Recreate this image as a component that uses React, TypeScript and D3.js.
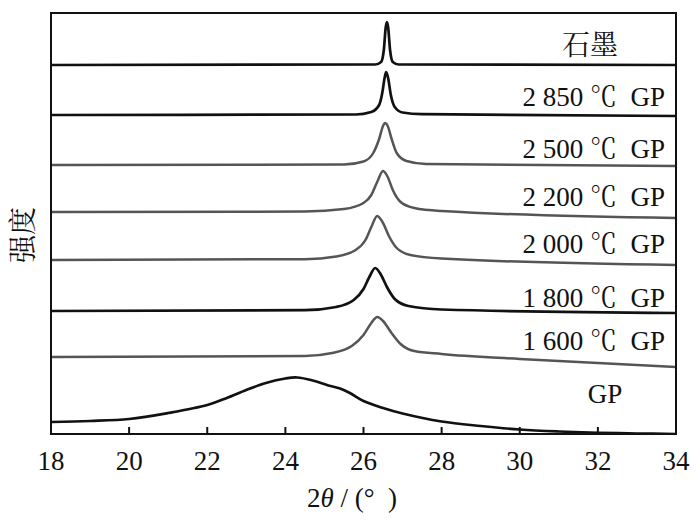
import * as d3 from "d3";

// 2θ tick values along the bottom axis
const xTicks = [18, 20, 22, 24, 26, 28, 30, 32, 34];

// sample labels, top to bottom: temperature part / suffix
const temps = ["", "2 850", "2 500", "2 200", "2 000", "1 800", "1 600", ""];
const topLabel = "石墨";
const bottomLabel = "GP";

// vertical offset of each trace (intensity, a.u.)
const offsets = [36.9, 31.9, 26.9, 22.2, 17.4, 12.3, 7.7, 0];

// trace colour: dark / grey as in the figure
const tones = ["dark", "dark", "grey", "grey", "grey", "dark", "grey", "dark"];

// [2θ, intensity above offset]
const graphite: [number, number][] = [
  [18, 0], [26.3, 0.05], [26.45, 0.3], [26.52, 1.5], [26.57, 3.8], [26.6, 4.3],
  [26.63, 3.8], [26.68, 1.5], [26.75, 0.3], [26.9, 0.05], [34, 0],
];
const gp2850: [number, number][] = [
  [18, 0], [25.8, 0.05], [26.2, 0.3], [26.4, 1.0], [26.48, 2.2], [26.54, 3.7],
  [26.58, 4.3], [26.63, 3.7], [26.7, 2.0], [26.8, 0.8], [27.0, 0.25], [27.5, 0.08], [34, -0.1],
];
const gp2500: [number, number][] = [
  [18, 0], [25.5, 0.05], [26.0, 0.35], [26.25, 1.2], [26.4, 2.6], [26.5, 3.9],
  [26.55, 4.2], [26.62, 3.9], [26.72, 2.6], [26.85, 1.2], [27.1, 0.4], [27.6, 0.1], [34, -0.1],
];
const gp2200: [number, number][] = [
  [18, 0], [24.5, 0.05], [25.5, 0.3], [26.0, 0.9], [26.2, 1.7], [26.35, 3.0],
  [26.5, 4.1], [26.62, 3.5], [26.75, 2.2], [26.95, 1.0], [27.3, 0.4], [28, 0.1], [34, -0.6],
];
const gp2000: [number, number][] = [
  [18, 0], [24.5, 0.08], [25.3, 0.35], [25.8, 1.0], [26.05, 2.0], [26.2, 3.3],
  [26.35, 4.4], [26.5, 3.7], [26.65, 2.4], [26.85, 1.2], [27.2, 0.5], [28, 0.15], [34, -0.5],
];
const gp1800: [number, number][] = [
  [18, 0], [24.5, 0.08], [25.3, 0.4], [25.75, 1.1], [26.0, 2.2], [26.15, 3.4],
  [26.3, 4.3], [26.45, 3.6], [26.6, 2.4], [26.8, 1.2], [27.15, 0.5], [28, 0.15], [34, -0.2],
];
const gp1600: [number, number][] = [
  [18, 0], [24.5, 0.1], [25.2, 0.4], [25.7, 1.1], [26.0, 2.2], [26.2, 3.4],
  [26.35, 4.0], [26.5, 3.6], [26.7, 2.5], [26.95, 1.3], [27.3, 0.6], [28, 0.3], [30, -0.2], [34, -1.0],
];
const gpRaw: [number, number][] = [
  [18, 1.2], [19, 1.3], [20, 1.5], [21, 2.1], [22, 2.9], [22.5, 3.6], [23, 4.4],
  [23.5, 5.1], [24, 5.55], [24.3, 5.65], [24.7, 5.35], [25.1, 4.85], [25.4, 4.55],
  [25.65, 4.1], [26, 3.3], [26.5, 2.6], [27, 2.05], [28, 1.25], [29, 0.8], [30, 0.45],
  [31, 0.25], [32, 0.12], [33, 0.05], [34, 0],
];

const series = [graphite, gp2850, gp2500, gp2200, gp2000, gp1800, gp1600, gpRaw];

// label baselines in intensity units (same scale as the traces)
const labelY = [37.9, 32.8, 27.6, 22.8, 18.1, 12.7, 8.4, 3.1];

const W = 700;
const H = 526;
const margin = { top: 13, right: 24, bottom: 92, left: 51 };

const serif = "'Liberation Serif', 'Times New Roman', serif";
const song = "'Noto Serif CJK SC', 'Noto Sans CJK SC', serif";

export default function App() {
  const x = d3.scaleLinear().domain([18, 34]).range([margin.left, W - margin.right]);
  const y = d3.scaleLinear().domain([0, 42.1]).range([H - margin.bottom, margin.top]);

  return (
    <div style={{ position: "fixed", left: 0, top: 0 }}>
      <svg width={W} height={H} style={{ display: "block", background: "#fff" }}>
        <defs>
          <clipPath id="plot">
            <rect
              x={margin.left}
              y={margin.top}
              width={W - margin.left - margin.right}
              height={H - margin.top - margin.bottom}
            />
          </clipPath>
        </defs>

        {/* traces */}
        <g clipPath="url(#plot)">
          {series.map((pts, i) => {
            const line = d3
              .line<[number, number]>()
              .x((d) => x(d[0]))
              .y((d) => y(d[1] + offsets[i]))
              .curve(i === series.length - 1 ? d3.curveCatmullRom.alpha(0.5) : d3.curveMonotoneX);
            return (
              <path
                key={i}
                d={line(pts) ?? ""}
                fill="none"
                stroke={tones[i] === "dark" ? "#111" : "#555"}
                strokeWidth={tones[i] === "dark" ? 2.7 : 2.5}
                strokeLinejoin="round"
              />
            );
          })}
        </g>

        {/* frame */}
        <rect
          x={margin.left}
          y={margin.top}
          width={W - margin.left - margin.right}
          height={H - margin.top - margin.bottom}
          fill="none"
          stroke="#111"
          strokeWidth={2}
        />

        {/* bottom ticks, pointing in */}
        {xTicks.slice(1, -1).map((t) => (
          <line
            key={t}
            x1={x(t)}
            x2={x(t)}
            y1={y(0)}
            y2={y(0) - 7}
            stroke="#111"
            strokeWidth={2}
          />
        ))}
        {xTicks.map((t) => (
          <text
            key={t}
            x={x(t)}
            y={470}
            textAnchor="middle"
            style={{ fontFamily: serif }}
            fontSize={27}
            fill="#111"
          >
            {t}
          </text>
        ))}

        {/* series labels */}
        <text x={590} y={y(labelY[0])} textAnchor="middle" style={{ fontFamily: song }} fontSize={28} fill="#111">
          {topLabel}
        </text>
        {temps.map((t, i) =>
          t ? (
            <text
              key={i}
              x={665}
              y={y(labelY[i])}
              textAnchor="end"
              style={{ fontFamily: serif, whiteSpace: "pre" }}
              fontSize={27}
              fill="#111"
            >
              {t + " "}
              <tspan style={{ fontFamily: song }}>℃</tspan>
              {"  GP"}
            </text>
          ) : null
        )}
        <text
          x={605}
          y={y(labelY[labelY.length - 1])}
          textAnchor="middle"
          style={{ fontFamily: serif }}
          fontSize={27}
          fill="#111"
        >
          {bottomLabel}
        </text>

        {/* axis titles */}
        <text x={307} y={507} style={{ fontFamily: serif, whiteSpace: "pre" }} fontSize={27} fill="#111">
          2<tspan fontStyle="italic">θ</tspan> / (°  )
        </text>
        <text
          transform="translate(33,235) rotate(-90)"
          textAnchor="middle"
          style={{ fontFamily: song }}
          fontSize={28}
          fill="#111"
        >
          强度
        </text>
      </svg>
    </div>
  );
}
